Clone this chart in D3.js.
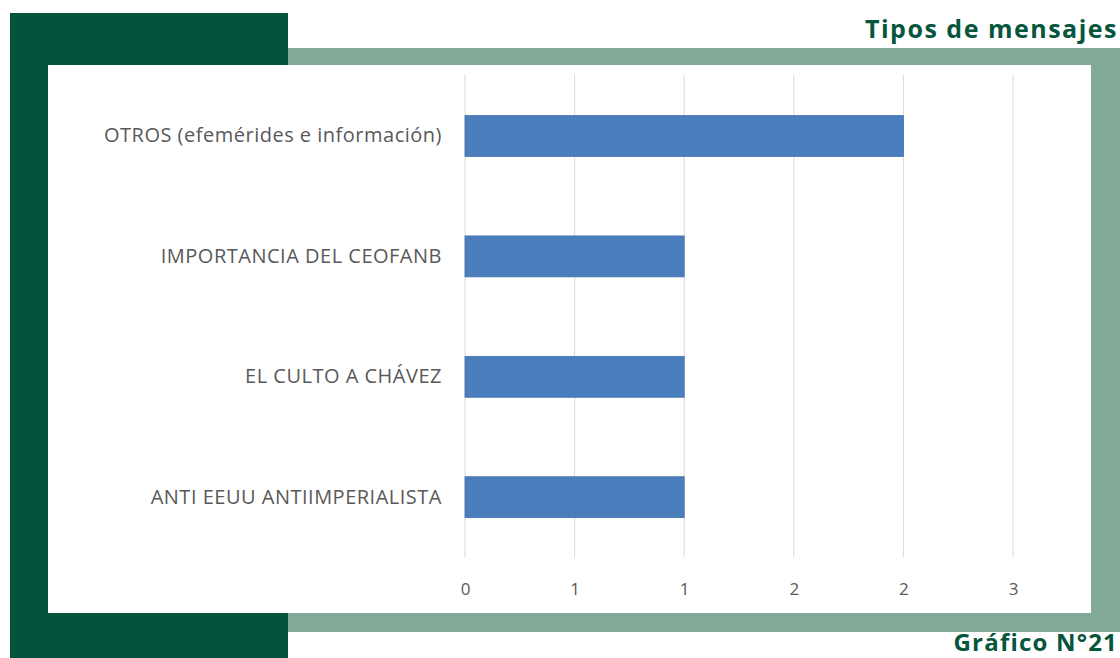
<!DOCTYPE html>
<html>
<head>
<meta charset="utf-8">
<script src="https://cdn.jsdelivr.net/npm/d3@7"></script>
<style>
  body { margin: 0; background: #ffffff; }
  svg { display: block; }
</style>
</head>
<body>
<svg id="svg"></svg>
<script>
// data
const categories = [
    "OTROS (efemérides e información)",
    "IMPORTANCIA DEL CEOFANB",
    "EL CULTO A CHÁVEZ",
    "ANTI EEUU ANTIIMPERIALISTA"
];
const values = [2, 1, 1, 1];
const tickValues = [0, 0.5, 1, 1.5, 2, 2.5];
const tickLabels = ["0", "1", "1", "2", "2", "3"];

const width = 1120;
const height = 658;
let svg = d3.select("#svg").attr("width", width).attr("height", height);

// frame / decoration
svg.append("rect")
    .attr("x", 10).attr("y", 13)
    .attr("width", 278).attr("height", 645)
    .attr("fill", "#03523b");

svg.append("rect")
    .attr("x", 288).attr("y", 48)
    .attr("width", 832).attr("height", 584)
    .attr("fill", "#82aa99");

svg.append("rect")
    .attr("x", 48).attr("y", 65)
    .attr("width", 1043).attr("height", 548)
    .attr("fill", "#ffffff");

// titles
svg.append("text")
    .attr("x", 1118)
    .attr("y", 38)
    .attr("text-anchor", "end")
    .style("font-family", "'Open Sans', sans-serif")
    .style("font-weight", 700)
    .style("font-size", "25px")
    .style("letter-spacing", "1.5px")
    .style("fill", "#06553c")
    .text("Tipos de mensajes");

svg.append("text")
    .attr("x", 1118)
    .attr("y", 651)
    .attr("text-anchor", "end")
    .style("font-family", "'Open Sans', sans-serif")
    .style("font-weight", 700)
    .style("font-size", "24px")
    .style("letter-spacing", "1.2px")
    .style("fill", "#06553c")
    .text("Gráfico N°21");

// scales
let xScale = d3.scaleLinear()
    .domain([0, 2.5])
    .range([465, 1013]);

let yScale = d3.scaleBand()
    .domain(categories)
    .range([75.8, 557.4])
    .paddingInner(0.66)
    .paddingOuter(0.33);

// gridlines
svg.append("g")
    .selectAll("line")
    .data(tickValues)
    .enter().append("line")
    .attr("x1", d => xScale(d))
    .attr("x2", d => xScale(d))
    .attr("y1", 75)
    .attr("y2", 557)
    .attr("stroke", "#d9d9d9")
    .attr("stroke-width", 1);

// bars
svg.append("g")
    .selectAll("rect")
    .data(categories)
    .enter().append("rect")
    .attr("x", xScale(0))
    .attr("y", d => yScale(d))
    .attr("width", (d, i) => xScale(values[i]) - xScale(0))
    .attr("height", yScale.bandwidth())
    .attr("fill", "#4a7dbb")
    .attr("stroke", "#4672ad")
    .attr("stroke-width", 0.8);

// x axis
const xAxis = svg.append("g")
    .attr("transform", "translate(0,589)")
    .call(d3.axisBottom(xScale)
        .tickValues(tickValues)
        .tickFormat((d, i) => tickLabels[i])
        .tickSize(0)
        .tickPadding(0));
xAxis.select(".domain").remove();
xAxis.selectAll("text")
    .attr("dy", "0.35em")
    .style("font-family", "'Open Sans', sans-serif")
    .style("font-size", "17px")
    .style("fill", "#595959");

// y axis
const yAxis = svg.append("g")
    .attr("transform", "translate(465,0)")
    .call(d3.axisLeft(yScale).tickSize(0).tickPadding(23));
yAxis.select(".domain").remove();
yAxis.selectAll("text")
    .style("font-family", "'Open Sans', sans-serif")
    .style("font-size", "20px")
    .style("letter-spacing", "0.5px")
    .style("fill", "#595959");
</script>
</body>
</html>
